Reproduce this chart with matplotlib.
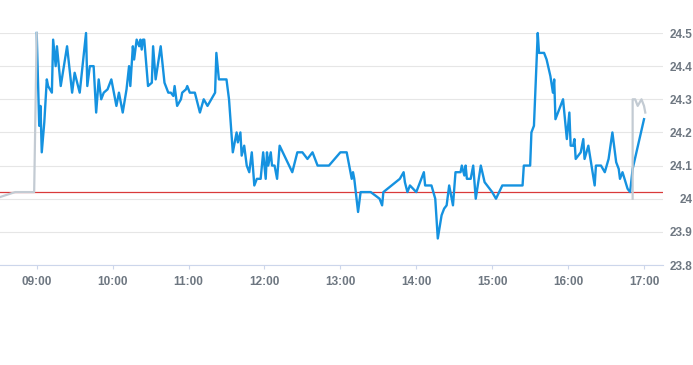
import matplotlib
matplotlib.use("Agg")
import matplotlib.pyplot as plt
import matplotlib.dates as mdates
from matplotlib.ticker import FuncFormatter
import pandas as pd

# Intraday price (blue)
times = [
    "09:00", "09:02", "09:03", "09:04", "09:06", "09:08", "09:09", "09:12", "09:13", "09:15",
    "09:16", "09:19", "09:24", "09:28", "09:30", "09:34", "09:39", "09:40", "09:42", "09:45",
    "09:47", "09:49", "09:51", "09:53", "09:56", "09:58", "09:59", "10:03", "10:05", "10:08",
    "10:11", "10:13", "10:14", "10:16", "10:17", "10:19", "10:21", "10:22", "10:23", "10:24",
    "10:25", "10:28", "10:31", "10:32", "10:34", "10:38", "10:41", "10:44", "10:46", "10:48",
    "10:49", "10:51", "10:54", "10:55", "10:58", "10:59", "11:01", "11:05", "11:09", "11:12",
    "11:15", "11:18", "11:21", "11:22", "11:24", "11:30", "11:32", "11:35", "11:38", "11:39",
    "11:41", "11:42", "11:44", "11:46", "11:48", "11:50", "11:52", "11:54", "11:57", "11:59",
    "12:01", "12:02", "12:03", "12:05", "12:06", "12:08", "12:10", "12:12", "12:22", "12:26",
    "12:30", "12:34", "12:38", "12:42", "12:51", "13:00", "13:05", "13:09", "13:10", "13:11",
    "13:14", "13:16", "13:24", "13:31", "13:33", "13:34", "13:47", "13:50", "13:51", "13:53",
    "13:55", "14:00", "14:06", "14:07", "14:12", "14:15", "14:17", "14:20", "14:22", "14:24",
    "14:26", "14:29", "14:31", "14:35", "14:36", "14:38", "14:39", "14:40", "14:43", "14:45",
    "14:47", "14:51", "14:54", "14:58", "15:00", "15:03", "15:08", "15:24", "15:25", "15:30",
    "15:31", "15:33", "15:36", "15:37", "15:41", "15:43", "15:46", "15:48", "15:49", "15:50",
    "15:56", "15:59", "16:01", "16:02", "16:04", "16:05", "16:06", "16:10", "16:12", "16:13",
    "16:16", "16:21", "16:22", "16:26", "16:29", "16:32", "16:35", "16:38", "16:40", "16:41",
    "16:43", "16:47", "16:49", "16:51", "17:00",
]
prices = [
    24.50, 24.22, 24.28, 24.14, 24.23, 24.36, 24.34, 24.32, 24.48, 24.40,
    24.46, 24.34, 24.46, 24.32, 24.38, 24.32, 24.50, 24.34, 24.40, 24.40,
    24.26, 24.36, 24.30, 24.32, 24.33, 24.35, 24.36, 24.28, 24.32, 24.26,
    24.33, 24.40, 24.34, 24.46, 24.42, 24.48, 24.46, 24.48, 24.45, 24.48,
    24.48, 24.34, 24.35, 24.46, 24.36, 24.46, 24.35, 24.32, 24.32, 24.31,
    24.34, 24.28, 24.30, 24.32, 24.33, 24.34, 24.32, 24.32, 24.26, 24.30,
    24.28, 24.30, 24.32, 24.44, 24.36, 24.36, 24.30, 24.14, 24.20, 24.17,
    24.20, 24.13, 24.16, 24.10, 24.08, 24.14, 24.04, 24.06, 24.06, 24.14,
    24.06, 24.14, 24.10, 24.14, 24.10, 24.10, 24.06, 24.16, 24.08, 24.14,
    24.14, 24.12, 24.14, 24.10, 24.10, 24.14, 24.14, 24.06, 24.08, 24.06,
    23.96, 24.02, 24.02, 24.00, 23.98, 24.02, 24.06, 24.08, 24.05, 24.02,
    24.04, 24.02, 24.08, 24.04, 24.04, 24.00, 23.88, 23.95, 23.97, 23.98,
    24.04, 23.98, 24.08, 24.08, 24.10, 24.07, 24.10, 24.06, 24.06, 24.10,
    24.00, 24.10, 24.05, 24.03, 24.02, 24.00, 24.04, 24.04, 24.10, 24.10,
    24.20, 24.22, 24.50, 24.44, 24.44, 24.42, 24.37, 24.32, 24.36, 24.24,
    24.30, 24.18, 24.26, 24.16, 24.16, 24.18, 24.12, 24.14, 24.18, 24.12,
    24.16, 24.04, 24.10, 24.10, 24.08, 24.12, 24.20, 24.11, 24.09, 24.06,
    24.08, 24.03, 24.02, 24.09, 24.24,
]

# Pre-open and after-close segments (gray)
pre_times = ["08:31", "08:43", "08:58", "09:00"]
pre_prices = [24.005, 24.02, 24.02, 24.50]
post_times = ["16:51", "16:51", "16:53", "16:55", "16:58", "17:00", "17:01"]
post_prices = [24.00, 24.30, 24.30, 24.28, 24.30, 24.28, 24.26]

prev_close = 24.02
y_ticks = [23.8, 23.9, 24.0, 24.1, 24.2, 24.3, 24.4, 24.5]
x_start, x_end = "08:31", "17:15"

plt.rcParams["font.family"] = ["Liberation Sans", "DejaVu Sans"]


def to_dt(ts):
    return pd.to_datetime(["2024-01-02 " + t for t in ts])


fig = plt.figure(figsize=(6.93, 3.65), dpi=100)
ax = fig.add_axes([0.0, 1 - 265 / 365, 663 / 693, 232 / 365])

ax.axhline(prev_close, color="#d93a3a", lw=0.9, zorder=2)
ax.plot(to_dt(times), prices, color="#1592e0", lw=1.7, zorder=3, clip_on=False)
ax.plot(to_dt(pre_times), pre_prices, color="#c3cbd3", lw=1.6, zorder=4, clip_on=False)
ax.plot(to_dt(post_times), post_prices, color="#c3cbd3", lw=1.6, zorder=4, clip_on=False)

ax.set_xlim(to_dt([x_start])[0], to_dt([x_end])[0])
ax.set_ylim(y_ticks[0], y_ticks[-1])
ax.set_yticks(y_ticks)
ax.yaxis.set_major_formatter(FuncFormatter(lambda v, p: "%g" % round(v, 1)))
ax.xaxis.set_major_locator(mdates.HourLocator())
ax.xaxis.set_major_formatter(mdates.DateFormatter("%H:%M"))

ax.grid(axis="y", color="#e6e6e6", lw=0.8)
ax.set_axisbelow(True)
for s in ["top", "left", "right"]:
    ax.spines[s].set_visible(False)
ax.spines["bottom"].set_color("#ccd6eb")
ax.spines["bottom"].set_linewidth(0.8)

ax.yaxis.tick_right()
ax.tick_params(axis="y", length=0, pad=21, labelsize=8.5, labelcolor="#6e7781")
for lab in ax.get_yticklabels():
    lab.set_horizontalalignment("right")
    lab.set_fontweight("bold")
ax.tick_params(axis="x", length=3, width=0.8, color="#ccd6eb", pad=5,
               labelsize=8.5, labelcolor="#6e7781")
for lab in ax.get_xticklabels():
    lab.set_fontweight("bold")

fig.savefig("out.png", dpi=100)
